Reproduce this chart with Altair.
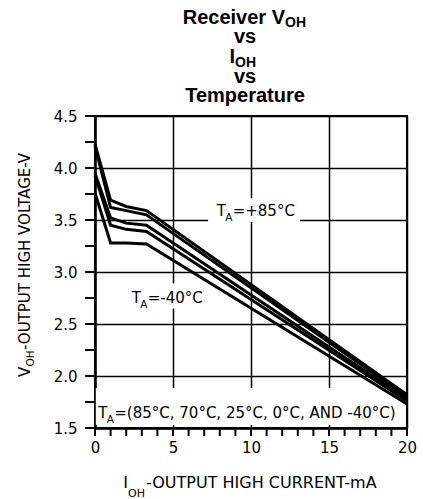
import altair as alt
import pandas as pd

# ---- data ----
current_mA = [0, 1, 2, 3.3, 20]
v_85 = [4.23, 3.69, 3.63, 3.59, 1.82]
v_70 = [4.21, 3.62, 3.59, 3.55, 1.80]
v_25 = [3.95, 3.52, 3.47, 3.45, 1.78]
v_0 = [3.93, 3.45, 3.41, 3.39, 1.76]
v_m40 = [3.76, 3.28, 3.28, 3.27, 1.73]
series = {"85": v_85, "70": v_70, "25": v_25, "0": v_0, "-40": v_m40}

x_ticks = list(range(0, 21))
y_ticks = [1.5 + 0.25 * i for i in range(13)]

rows = []
for t, vals in series.items():
    for i, (x, y) in enumerate(zip(current_mA, vals)):
        rows.append({"temp": t, "i": x, "v": y, "order": i})
df = pd.DataFrame(rows)
xt_df = pd.DataFrame({"tx": x_ticks})
yt_df = pd.DataFrame({"ty": y_ticks})

FONT = "DejaVu Sans"
TFONT = "Liberation Sans"

x_scale = alt.Scale(domain=[0, 20], nice=False, zero=False)
y_scale = alt.Scale(domain=[1.5, 4.5], nice=False, zero=False)

major_y = "abs(datum.value*2 - round(datum.value*2)) < 0.001"
major_x = "datum.value % 5 === 0"

x_axis = alt.Axis(
    values=x_ticks, title=None, grid=True,
    gridOpacity={"condition": {"test": major_x, "value": 1}, "value": 0},
    labelExpr=f"{major_x} ? datum.label : ''",
    labelOverlap=False, labelFlush=False,
    ticks=False, labelPadding=12, domain=True,
)
y_axis = alt.Axis(
    values=y_ticks, title=None, grid=True,
    gridOpacity={"condition": {"test": major_y, "value": 1}, "value": 0},
    labelExpr=f"{major_y} ? format(datum.value, '.1f') : ''",
    labelOverlap=False, labelFlush=False,
    ticks=False, labelPadding=18, domain=True,
)


def X(v):
    return alt.X(datum=v, type="quantitative", scale=x_scale, axis=x_axis)


def Y(v):
    return alt.Y(datum=v, type="quantitative", scale=y_scale, axis=y_axis)


curves = alt.Chart(df).mark_line(color="black", strokeWidth=3).encode(
    x=alt.X("i:Q", scale=x_scale, axis=x_axis),
    y=alt.Y("v:Q", scale=y_scale, axis=y_axis),
    detail="temp:N",
    order="order:Q",
)

# tick marks drawn through the scales
x_tick_marks = alt.Chart(xt_df).mark_rule(
    color="black", strokeWidth=2, clip=False
).encode(
    x=alt.X("tx:Q", scale=x_scale, axis=x_axis),
    y=alt.value(312), y2=alt.value(320),
)
y_tick_marks = alt.Chart(yt_df).mark_rule(
    color="black", strokeWidth=2, clip=False
).encode(
    y=alt.Y("ty:Q", scale=y_scale, axis=y_axis),
    x=alt.value(-10), x2=alt.value(0),
)


def box(x1, x2, y1, y2):
    return alt.Chart().mark_rect(fill="white").encode(
        x=X(x1), x2=alt.X2(datum=x2), y=Y(y1), y2=alt.Y2(datum=y2)
    )


def label_ta(x, y, rest):
    base = alt.Chart()
    t = base.mark_text(text="T", font=FONT, fontSize=15, align="left",
                       baseline="alphabetic", color="black").encode(
        x=X(x), y=Y(y))
    a = base.mark_text(text="A", font=FONT, fontSize=10.5, align="left",
                       baseline="alphabetic", color="black", dx=8.5, dy=5).encode(
        x=X(x), y=Y(y))
    r = base.mark_text(text=rest, font=FONT, fontSize=15, align="left",
                       baseline="alphabetic", color="black", dx=16).encode(
        x=X(x), y=Y(y))
    return [t, a, r]


def ptext(txt, px, py, size, align="left", bold=False, font=FONT, angle=0):
    kw = dict(text=txt, font=font, fontSize=size, align=align,
              baseline="alphabetic", color="black")
    if bold:
        kw["fontWeight"] = "bold"
    if angle:
        kw["angle"] = angle
    return alt.Chart().mark_text(**kw).encode(x=alt.value(px), y=alt.value(py))


layers = [curves.mark_line(opacity=0)]
layers += [
    box(7.25, 13.15, 3.48, 3.71),
    box(2.05, 7.5, 2.65, 2.89),
    box(0.05, 19.55, 1.529, 1.885),
]
layers += label_ta(7.8, 3.54, "=+85°C")
layers += label_ta(2.35, 2.70, "=-40°C")
layers += label_ta(0.21, 1.598, "=(85°C, 70°C, 25°C, 0°C, AND -40°C)")
layers += [curves, x_tick_marks, y_tick_marks]

# title (plot origin at page 95,116)
layers += [
    ptext("Receiver V", 190, -92, 20, align="right", bold=True, font=TFONT),
    ptext("OH", 190, -89, 14, align="left", bold=True, font=TFONT),
    ptext("vs", 150, -73, 20, align="center", bold=True, font=TFONT),
    ptext("I", 140, -53, 20, align="right", bold=True, font=TFONT),
    ptext("OH", 140, -49, 14, align="left", bold=True, font=TFONT),
    ptext("vs", 150, -33, 20, align="center", bold=True, font=TFONT),
    ptext("Temperature", 150, -14, 20, align="center", bold=True, font=TFONT),
]
# axis titles
layers += [
    ptext("I", 33, 372, 16, align="right"),
    ptext("OH", 33, 381, 11, align="left"),
    ptext("-OUTPUT HIGH CURRENT-mA", 51, 372, 16, align="left"),
    ptext("V", -65, 261, 15, align="left", angle=270),
    ptext("OH", -61.5, 250.5, 10.5, align="left", angle=270),
    ptext("-OUTPUT HIGH VOLTAGE-V", -65, 234, 15, align="left", angle=270),
]

chart = alt.layer(*layers).properties(
    width=312, height=312,
    autosize=alt.AutoSizeParams(type="none"),
    padding={"left": 95, "top": 116, "right": 16, "bottom": 71},
    background="white",
).configure_view(
    stroke="black", strokeWidth=2
).configure_axis(
    labelFont=FONT, labelFontSize=15, labelColor="black",
    domainColor="black", domainWidth=2.5,
    gridColor="black", gridWidth=1.5,
)

chart.save("out.html", embed_options={"renderer": "svg", "actions": False})
